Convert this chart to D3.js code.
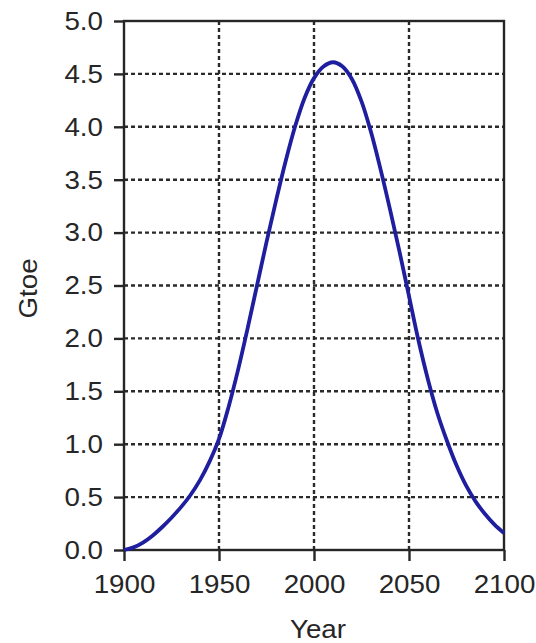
<!DOCTYPE html>
<html>
<head>
<meta charset="utf-8">
<script src="https://cdn.jsdelivr.net/npm/d3@7.9.0/dist/d3.min.js"></script>
<style>
  html, body { margin: 0; padding: 0; background: #fff; }
  svg { display: block; }
</style>
</head>
<body>
<div id="chart"></div>
<script>
// Curve, every 5 years
const years = [1900, 1905, 1910, 1915, 1920, 1925, 1930, 1935, 1940, 1945,
               1950, 1955, 1960, 1965, 1970, 1975, 1980, 1985, 1990, 1995,
               2000, 2005, 2010, 2015, 2020, 2025, 2030, 2035, 2040, 2045,
               2050, 2055, 2060, 2065, 2070, 2075, 2080, 2085, 2090, 2095, 2100];
const gtoe = [0.00, 0.025, 0.07, 0.135, 0.215, 0.305, 0.405, 0.52, 0.66, 0.835,
              1.05, 1.35, 1.70, 2.09, 2.50, 2.91, 3.30, 3.67, 4.00, 4.27,
              4.46, 4.57, 4.61, 4.57, 4.45, 4.24, 3.95, 3.60, 3.22, 2.82,
              2.40, 1.98, 1.61, 1.29, 1.03, 0.80, 0.61, 0.46, 0.34, 0.24, 0.16];

const xTicks = [1900, 1950, 2000, 2050, 2100];
const yTicks = [0, 0.5, 1, 1.5, 2, 2.5, 3, 3.5, 4, 4.5, 5];

const WIDTH = 536, HEIGHT = 643;
const LINE_COLOR = '#1e1e9e';
const INK = '#262626';
const FONT = '"Liberation Sans", Arial, sans-serif';
const FONT_SIZE = '26px';
const SX = 1.067; // the original lettering is a little wider than Arial

const svg = d3.select('#chart')
    .append('svg')
    .attr('width', WIDTH)
    .attr('height', HEIGHT)
    .style('background', '#fff');

const x = d3.scaleLinear().domain([1900, 2100]).range([124, 504]);
const y = d3.scaleLinear().domain([0, 5]).range([550, 21]);

// Dotted grid (inner lines only)
const grid = svg.append('g')
    .attr('stroke', '#2a2a2a')
    .attr('stroke-width', 2.4)
    .attr('stroke-dasharray', '4,3');

grid.selectAll('line.h')
    .data(yTicks.filter(d => d > 0 && d < 5))
    .join('line')
    .attr('class', 'h')
    .attr('x1', x(1900)).attr('x2', x(2100))
    .attr('y1', d => y(d)).attr('y2', d => y(d));

grid.selectAll('line.v')
    .data(xTicks.filter(d => d > 1900 && d < 2100))
    .join('line')
    .attr('class', 'v')
    .attr('x1', d => x(d)).attr('x2', d => x(d))
    .attr('y1', y(5)).attr('y2', y(0));

// Axes
const yAxis = svg.append('g')
    .attr('transform', `translate(${x(1900)},0)`)
    .call(d3.axisLeft(y).tickValues(yTicks).tickSize(10).tickPadding(11)
        .tickFormat(d3.format('.1f')));

const xAxis = svg.append('g')
    .attr('transform', `translate(0,${y(0)})`)
    .call(d3.axisBottom(x).tickValues(xTicks).tickSize(11).tickPadding(14)
        .tickFormat(d3.format('d')));

[yAxis, xAxis].forEach(a => {
    a.select('.domain').remove();
    a.selectAll('.tick line').attr('stroke', INK).attr('stroke-width', 2.4);
    a.selectAll('.tick text')
        .attr('fill', INK)
        .attr('transform', `scale(${SX},1)`)
        .style('font-family', FONT)
        .style('font-size', FONT_SIZE);
});
yAxis.selectAll('.tick text').attr('x', -21 / SX);

// Frame
svg.append('rect')
    .attr('x', x(1900))
    .attr('y', y(5))
    .attr('width', x(2100) - x(1900))
    .attr('height', y(0) - y(5))
    .attr('fill', 'none')
    .attr('stroke', INK)
    .attr('stroke-width', 2.4);

// Curve
const line = d3.line()
    .x((d, i) => x(years[i]))
    .y(d => y(d))
    .curve(d3.curveCatmullRom.alpha(0.5));

svg.append('path')
    .datum(gtoe)
    .attr('d', line)
    .attr('fill', 'none')
    .attr('stroke', LINE_COLOR)
    .attr('stroke-width', 3.8)
    .attr('stroke-linejoin', 'round');

// Axis titles
svg.append('text')
    .attr('transform', `translate(${(x(1900) + x(2100)) / 2 + 4},638) scale(${SX},1)`)
    .attr('text-anchor', 'middle')
    .attr('fill', INK)
    .style('font-family', FONT)
    .style('font-size', FONT_SIZE)
    .text('Year');

svg.append('text')
    .attr('transform', `translate(37,${(y(0) + y(5)) / 2 + 3}) rotate(-90) scale(${SX},1)`)
    .attr('text-anchor', 'middle')
    .attr('fill', INK)
    .style('font-family', FONT)
    .style('font-size', FONT_SIZE)
    .text('Gtoe');
</script>
</body>
</html>
